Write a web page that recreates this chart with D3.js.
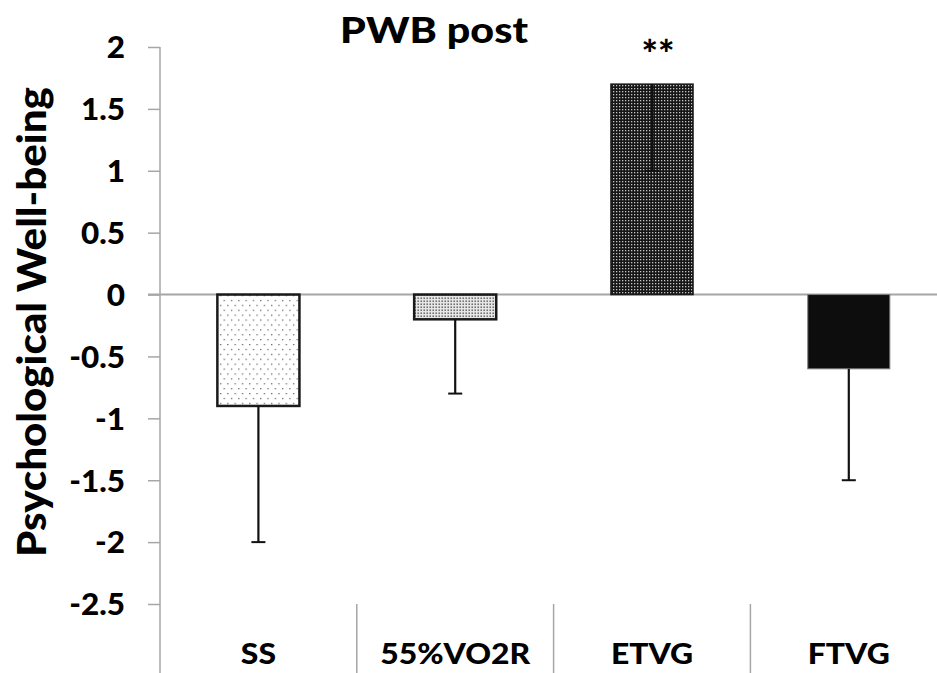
<!DOCTYPE html>
<html><head><meta charset="utf-8">
<script src="https://cdn.jsdelivr.net/npm/d3@7/dist/d3.min.js"></script>
<style>html,body{margin:0;padding:0;background:#fff;}svg{display:block;}text{font-family:Lato,"Open Sans",sans-serif;font-weight:900;fill:#000;}</style>
</head><body>
<svg id="c" width="937" height="673"></svg>
<script>
const categories = ["SS", "55%VO2R", "ETVG", "FTVG"];
const means = [-0.9, -0.2, 1.7, -0.6];
const errors = [1.1, 0.6, 0.7, 0.9];
const significance = ["", "", "**", ""];
const yTicks = [2, 1.5, 1, 0.5, 0, -0.5, -1, -1.5, -2, -2.5];
const title = "PWB post";
const yLabel = "Psychological Well-being";

const W = 937, H = 673;
const svg = d3.select("#c");
const gray = "#a6a6a6";

const x = d3.scaleBand().domain(categories).range([160, 947.2]).paddingInner(0.583).paddingOuter(0.2915);
const y = d3.scaleLinear().domain([-2.5, 2]).range([604, 47]);

// patterns
const defs = svg.append("defs");
const p1 = defs.append("pattern").attr("id","pSS").attr("patternUnits","userSpaceOnUse").attr("width",7.3).attr("height",9.8);
p1.append("rect").attr("width",7.3).attr("height",9.8).attr("fill","#fff");
p1.append("rect").attr("x",1).attr("y",1).attr("width",1.2).attr("height",1.2).attr("fill","#555");
p1.append("rect").attr("x",4.65).attr("y",5.9).attr("width",1.2).attr("height",1.2).attr("fill","#555");
const p2 = defs.append("pattern").attr("id","pVO").attr("patternUnits","userSpaceOnUse").attr("width",3).attr("height",3);
p2.append("rect").attr("width",3).attr("height",3).attr("fill","#e6e6e6");
p2.append("rect").attr("x",0.5).attr("y",0.5).attr("width",1.4).attr("height",1.4).attr("fill","#555");
const p3 = defs.append("pattern").attr("id","pET").attr("patternUnits","userSpaceOnUse").attr("width",3).attr("height",3);
p3.append("rect").attr("width",3).attr("height",3).attr("fill","#161616");
p3.append("rect").attr("x",1).attr("y",1).attr("width",1.3).attr("height",1.3).attr("fill","#c4c4c4");
const fills = ["url(#pSS)", "url(#pVO)", "url(#pET)", "#0d0d0d"];
const strokes = ["#1a1a1a", "#1a1a1a", "#1a1a1a", "#7f7f7f"];
const strokeW = [2.5, 2.5, 1.5, 1];

function fit(sel, target){
  const len = sel.node().getComputedTextLength();
  return target / len;
}

// y axis line
svg.append("line").attr("x1",160).attr("x2",160).attr("y1",y(2)).attr("y2",H)
  .attr("stroke",gray).attr("stroke-width",1.5);
// dividers
for (let i = 1; i < categories.length; i++) {
  const bx = x.range()[0] + i * x.step();
  svg.append("line").attr("x1",bx).attr("x2",bx).attr("y1",y(-2.5)).attr("y2",H)
    .attr("stroke",gray).attr("stroke-width",1.5);
}
// y axis ticks
const ax = svg.append("g").attr("transform","translate(160,0)")
  .call(d3.axisLeft(y).tickValues(yTicks).tickSize(12).tickPadding(0).tickFormat(d => String(d)));
ax.select(".domain").remove();
ax.selectAll(".tick line").attr("stroke",gray).attr("stroke-width",1.5);
const tickTexts = ax.selectAll(".tick text").attr("font-size",30).attr("x",0).attr("dy","0.36em")
  .style("font-family","Lato").style("font-weight","900").attr("fill","#000");
const sT = fit(ax.selectAll(".tick text").filter(d => d === 1.5), 44);
tickTexts.attr("transform", `translate(-35,0) scale(${sT},1)`);

// zero line
svg.append("line").attr("x1",148).attr("x2",W).attr("y1",y(0)).attr("y2",y(0))
  .attr("stroke",gray).attr("stroke-width",2);

// bars
svg.selectAll("rect.bar").data(categories).join("rect").attr("class","bar")
  .attr("x", c => x(c)).attr("width", x.bandwidth())
  .attr("y", (c,i) => y(Math.max(0, means[i])))
  .attr("height", (c,i) => Math.abs(y(means[i]) - y(0)))
  .attr("fill", (c,i) => fills[i]).attr("stroke", (c,i) => strokes[i]).attr("stroke-width", (c,i) => strokeW[i]);

// error bars (minus direction)
const eb = svg.selectAll("g.eb").data(categories).join("g").attr("class","eb");
eb.append("line").attr("x1", c => x(c) + x.bandwidth()/2).attr("x2", c => x(c) + x.bandwidth()/2)
  .attr("y1", (c,i) => y(means[i])).attr("y2", (c,i) => y(means[i] - errors[i]))
  .attr("stroke","#111").attr("stroke-width",2.2);
eb.append("line").attr("x1", c => x(c) + x.bandwidth()/2 - 7).attr("x2", c => x(c) + x.bandwidth()/2 + 7)
  .attr("y1", (c,i) => y(means[i] - errors[i])).attr("y2", (c,i) => y(means[i] - errors[i]))
  .attr("stroke","#111").attr("stroke-width",2);

// significance
categories.forEach((c,i) => {
  if (!significance[i]) return;
  const t = svg.append("text").attr("font-size",38).attr("text-anchor","middle").text(significance[i]);
  const s = fit(t, 33);
  t.attr("transform", `translate(${x(c) + x.bandwidth()/2 + 6},${y(means[i]) - 16}) scale(${s},1)`);
});

// category labels
const catG = svg.append("g");
const catT = catG.selectAll("text").data(categories).join("text").attr("font-size",28).attr("text-anchor","middle").text(d => d);
const sC = fit(catT.filter(d => d === "55%VO2R"), 150);
catT.attr("transform", d => `translate(${x(d) + x.bandwidth()/2},664) scale(${sC},1)`);

// title
const tt = svg.append("text").attr("font-size",36).attr("text-anchor","middle").text(title);
const sTi = fit(tt, 188);
tt.attr("transform", `translate(434,43) scale(${sTi},1)`);

// y label
const yl = svg.append("text").attr("font-size",40).attr("text-anchor","middle").text(yLabel);
const sY = fit(yl, 470);
yl.attr("transform", `translate(46,322) rotate(-90) scale(${sY},1)`);
</script>
</body></html>
